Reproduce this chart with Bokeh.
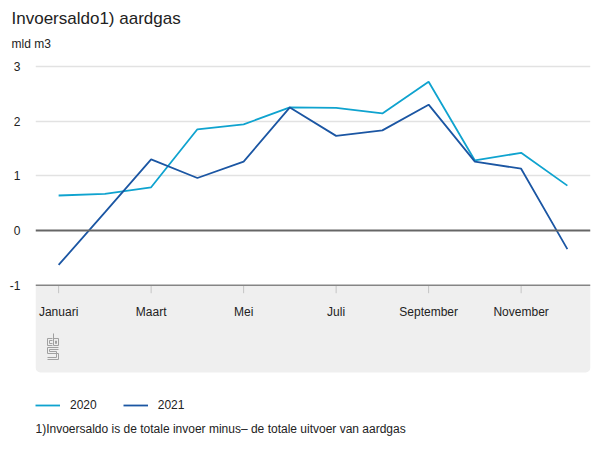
from bokeh.plotting import figure
from bokeh.models import Title, Legend, LegendItem, FixedTicker, Span
from bokeh.core.properties import value
from bokeh.embed import file_html
from bokeh.resources import INLINE

# ---- data ----
months = ["jan", "feb", "mrt", "apr", "mei", "jun", "jul", "aug", "sep", "okt", "nov", "dec"]
month_idx = list(range(len(months)))
label_idx = [0, 2, 4, 6, 8, 10]
month_labels = ["Januari", "Maart", "Mei", "Juli", "September", "November"]
v2020 = [0.64, 0.67, 0.79, 1.85, 1.94, 2.25, 2.24, 2.14, 2.72, 1.28, 1.42, 0.82]
v2021 = [-0.63, 0.33, 1.30, 0.96, 1.26, 2.25, 1.73, 1.83, 2.30, 1.26, 1.13, -0.34]
yticks = [-1, 0, 1, 2, 3]
ytick_labels = ["-1", "0", "1", "2", "3"]
grid_ticks = [1, 2, 3]
title_text = "Invoersaldo1) aardgas"
unit_text = "mld m3"
footnote = "1)Invoersaldo is de totale invoer minus\u2013 de totale uitvoer van aardgas"

C2020 = "#0fa3cf"
C2021 = "#1b56a3"
FONT = "Liberation Sans"
TXT = "#222222"

PX_X = 46.25   # pixels per month
PX_Y = 54.7    # pixels per unit

p = figure(width=600, height=450, x_range=(-0.5, 11.5), y_range=(-4.022, 3.254),
           x_axis_location=None, output_backend="svg", toolbar_location=None,
           min_border_left=35, min_border_right=10, min_border_top=52, min_border_bottom=0)
p.outline_line_color = None
p.background_fill_color = "white"
p.border_fill_color = "white"
p.xgrid.visible = False

# axis
ax = p.yaxis[0]
ax.ticker = FixedTicker(ticks=yticks)
ax.major_label_overrides = {t: s for t, s in zip(yticks, ytick_labels)}
ax.axis_line_color = None
ax.major_tick_line_color = None
ax.minor_tick_line_color = None
ax.major_tick_out = 0
ax.major_tick_in = 0
ax.minor_tick_out = 0
ax.major_label_standoff = 15
ax.major_label_text_font_size = "12px"
ax.major_label_text_font = FONT
ax.major_label_text_color = TXT

p.ygrid.ticker = FixedTicker(ticks=grid_ticks)
p.ygrid.grid_line_color = "#e2e2e2"
p.ygrid.grid_line_width = 1.5

# grey band with month labels
p.quad(left=[-0.5], right=[11.5], top=[-1], bottom=[-2.596], fill_color="#efefef",
       line_color=None, border_radius=(0, 0, 5, 5))
p.segment(x0=label_idx, y0=[-1] * len(label_idx), x1=label_idx,
          y1=[-1 - 8 / PX_Y] * len(label_idx), line_color="#c4c4c4", line_width=1)
p.text(x=label_idx, y=[-1.481] * len(label_idx), text=month_labels,
       text_align="center", text_baseline="middle", text_font=value(FONT),
       text_font_size="12px", text_color=TXT)

# cbs logo (decoration), local pixel offsets
lx0, ly0 = 47, 333
def lx(v):
    return [-0.5 + (lx0 + a - 35) / PX_X for a in v]
def ly(v):
    return [(230 - (ly0 + b)) / PX_Y for b in v]
paths = [
    ([5, 0, 0, 5], [5, 5, 12, 12]),
    ([5, 2, 2, 5], [7, 7, 10, 10]),
    ([6, 6, 11, 11, 6], [0, 12, 12, 5, 5]),
    ([8, 9, 9, 8, 8], [7.5, 7.5, 10, 10, 7.5]),
    ([11, 0, 0, 11, 11, 0], [14, 14, 20, 20, 26, 26]),
    ([11, 2, 2, 9, 9, 0], [16, 16, 18, 18, 24, 24]),
]
p.multi_line(xs=[lx(a) for a, b in paths], ys=[ly(b) for a, b in paths],
             line_color="#a0a0a0", line_width=1)

# reference lines
p.add_layout(Span(location=0, dimension="width", line_color="#666666", line_width=2))
p.add_layout(Span(location=-1, dimension="width", line_color="#858585", line_width=1.5))

# series
r1 = p.line(month_idx, v2020, line_color=C2020, line_width=1.8)
r2 = p.line(month_idx, v2021, line_color=C2021, line_width=1.8)

legend = Legend(items=[LegendItem(label="2020", renderers=[r1]),
                       LegendItem(label="2021", renderers=[r2])],
                orientation="horizontal", location=(0, 35),
                background_fill_alpha=0, border_line_color=None,
                padding=0, margin=0, spacing=26, glyph_width=25, label_standoff=10,
                label_text_font_size="12px", label_text_font=FONT, label_text_color=TXT)
p.add_layout(legend)

p.text(x=[-0.5], y=[-3.62], text=[footnote], text_align="left", text_baseline="middle",
       text_font=value(FONT), text_font_size="12px", text_color=TXT)

# titles
p.add_layout(Title(text=unit_text, align="left", offset=-24, text_font_size="12px",
                   text_font_style="normal", text_font=FONT, text_color=TXT, standoff=4), "above")
p.add_layout(Title(text=title_text, align="left", offset=-24, text_font_size="17px",
                   text_font_style="normal", text_font=FONT, text_color=TXT, standoff=9), "above")

open("out.html", "w").write(file_html(p, INLINE))
